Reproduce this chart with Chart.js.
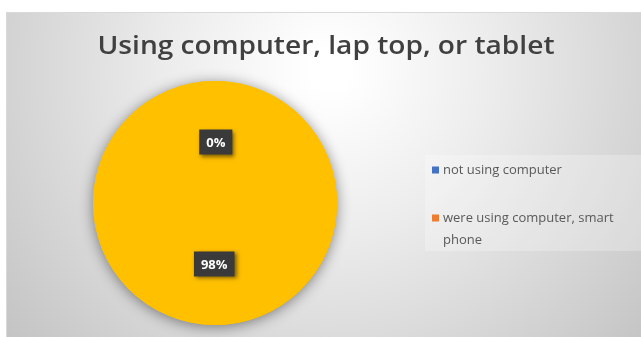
<!DOCTYPE html>
<html>
<head>
<meta charset="utf-8">
<script src="https://cdn.jsdelivr.net/npm/chart.js@4"></script>
<style>
  html, body { margin: 0; padding: 0; background: #fff; }
  #wrap { width: 641px; height: 337px; }
</style>
</head>
<body>
<div id="wrap"><canvas id="chart" width="641" height="337"></canvas></div>
<script>
const titleText = "Using computer, lap top, or tablet";
const categories = ["not using computer", "were using computer, smart phone"];
const values = [0.4, 98];
const valueLabels = ["0%", "98%"];
const legendColors = ["#4472C4", "#ED7D31"];
const sliceColor = "#FFC000";

// gray office-style frame with soft radial light
const frameBg = {
  id: 'frameBg',
  beforeDraw(chart) {
    const c = chart.ctx;
    c.save();
    c.fillStyle = '#fff';
    c.fillRect(0, 0, chart.width, chart.height);
    const g = c.createRadialGradient(330, 70, 20, 330, 70, 430);
    g.addColorStop(0, '#ffffff');
    g.addColorStop(0.35, '#ececec');
    g.addColorStop(1, '#c2c2c2');
    c.fillStyle = g;
    c.fillRect(6, 12, chart.width - 6, chart.height - 12);
    c.strokeStyle = '#d9d9d9';
    c.lineWidth = 1;
    c.strokeRect(6.5, 12.5, chart.width, chart.height);
    // title, stretched a little to match the wide Calibri look
    c.fillStyle = '#404040';
    c.font = '600 26px "Open Sans", Lato, sans-serif';
    c.textAlign = 'center';
    c.textBaseline = 'middle';
    const tw = c.measureText(titleText).width;
    c.translate(326, 47);
    c.scale(457 / tw, 1);
    c.fillText(titleText, 0, 0);
    c.setTransform(1, 0, 0, 1, 0, 0);
    // legend panel
    c.fillStyle = 'rgba(255,255,255,0.25)';
    c.fillRect(425, 155, 216, 96);
    c.restore();
  },
  beforeDatasetsDraw(chart) {
    // one shadow behind the whole pie
    const arc = chart.getDatasetMeta(0).data[0];
    if (!arc) return;
    const c = chart.ctx;
    c.save();
    c.shadowColor = 'rgba(0,0,0,0.45)';
    c.shadowBlur = 14;
    c.shadowOffsetY = 2;
    c.fillStyle = sliceColor;
    c.beginPath();
    c.arc(arc.x, arc.y, arc.outerRadius, 0, Math.PI * 2);
    c.fill();
    c.restore();
  },
  afterDraw(chart) {
    const c = chart.ctx;
    const meta = chart.getDatasetMeta(0);
    c.save();
    // dark value boxes
    c.font = 'bold 13px "Open Sans", Lato, sans-serif';
    c.textAlign = 'center';
    c.textBaseline = 'middle';
    meta.data.forEach((arc, i) => {
      const p = arc.tooltipPosition();
      const t = valueLabels[i];
      const w = c.measureText(t).width + 14;
      const h = 25;
      c.shadowColor = 'rgba(0,0,0,0.5)';
      c.shadowBlur = 4;
      c.shadowOffsetX = 2;
      c.shadowOffsetY = 2;
      c.fillStyle = '#3a3a3a';
      c.fillRect(p.x - w / 2, p.y - h / 2, w, h);
      c.shadowColor = 'transparent';
      c.fillStyle = '#ffffff';
      c.fillText(t, p.x, p.y + 1);
    });
    // legend
    c.font = '13px "Open Sans", Lato, sans-serif';
    c.textAlign = 'left';
    const rows = [[categories[0]], ["were using computer, smart", "phone"]];
    const ys = [170, 218];
    rows.forEach((lines, i) => {
      c.fillStyle = legendColors[i];
      c.fillRect(432, ys[i] - 3.5, 7, 7);
      c.fillStyle = '#595959';
      lines.forEach((ln, j) => c.fillText(ln, 443, ys[i] + j * 22));
    });
    c.restore();
  }
};

new Chart(document.getElementById('chart'), {
  type: 'pie',
  data: {
    labels: categories,
    datasets: [{
      data: values,
      backgroundColor: sliceColor,
      borderWidth: 0
    }]
  },
  options: {
    responsive: false,
    animation: false,
    layout: { padding: { left: 93, right: 304, top: 81, bottom: 12 } },
    plugins: {
      legend: { display: false },
      title: { display: false },
      tooltip: { enabled: false }
    }
  },
  plugins: [frameBg]
});
</script>
</body>
</html>
